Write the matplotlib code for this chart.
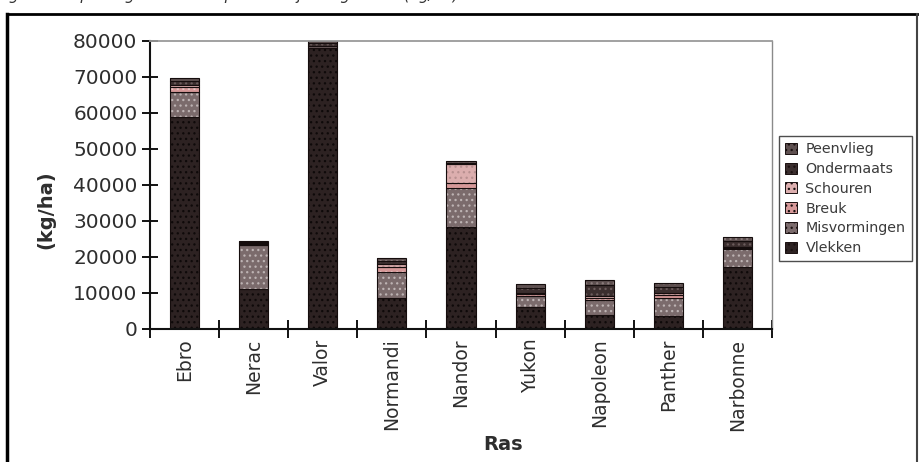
import matplotlib
matplotlib.use('Agg')
import matplotlib.pyplot as plt
import numpy as np
from matplotlib.patches import Patch
from matplotlib.lines import Line2D

# opbrengst en uitval per ras (kg/ha)
rassen = ['Ebro', 'Nerac', 'Valor', 'Normandi', 'Nandor',
          'Yukon', 'Napoleon', 'Panther', 'Narbonne']
vlekken = [58800, 11000, 78000, 8700, 28300, 6000, 3900, 3600, 17300]
misvormingen = [7100, 12300, 500, 7200, 10900, 3300, 4100, 5000, 5000]
breuk = [1200, 300, 0, 1300, 1300, 400, 700, 800, 300]
schouren = [700, 200, 0, 800, 5200, 300, 600, 700, 300]
ondermaats = [1200, 400, 900, 1000, 500, 1500, 2900, 1600, 1600]
peenvlieg = [800, 200, 600, 800, 400, 1000, 1400, 1000, 1000]

# naam, waarden, vulkleur, kleur van de stippels
reeksen = [
    ('Vlekken', vlekken, '#2d2222', '#0e0909'),
    ('Misvormingen', misvormingen, '#7b6b6c', '#bdb3b3'),
    ('Breuk', breuk, '#d69898', '#eac4c4'),
    ('Schouren', schouren, '#dcaeae', '#b89090'),
    ('Ondermaats', ondermaats, '#3b2e2e', '#6b5c5c'),
    ('Peenvlieg', peenvlieg, '#5e5050', '#8a7c7c'),
]

plt.rcParams['font.family'] = 'DejaVu Sans'
plt.rcParams['hatch.linewidth'] = 0.9
tekst = '#2e2e2e'

fig = plt.figure(figsize=(9.2, 4.62), dpi=100)
ax = fig.add_axes([150/920, 133/462, 622/920, 288/462])

x = np.arange(len(rassen))
w = 0.42
onder = np.zeros(len(rassen))
for naam, vals, fc, dc in reeksen:
    vals = np.array(vals, dtype=float)
    ax.bar(x, vals, w, bottom=onder, color=fc, edgecolor=dc,
           hatch='...', linewidth=0)
    ax.bar(x, vals, w, bottom=onder, fill=False,
           edgecolor='#150d0d', linewidth=0.8)
    onder += vals

ax.set_ylim(0, 80000)
ax.set_xlim(-0.5, len(rassen) - 0.5)
ax.set_yticks(np.arange(0, 80001, 10000))
ax.tick_params(axis='y', direction='inout', length=12, width=1.3,
               pad=3, labelsize=14.5, labelcolor=tekst)

ax.set_xticks(x)
ax.set_xticklabels(rassen, rotation=90, fontsize=13.5, color=tekst)
ax.set_xticks(np.arange(-0.5, len(rassen)), minor=True)
ax.tick_params(axis='x', which='major', length=0, pad=7)
ax.tick_params(axis='x', which='minor', direction='inout',
               length=13, width=1.3)

for s in ['left', 'bottom']:
    ax.spines[s].set_linewidth(1.5)
    ax.spines[s].set_color('#111111')
ax.spines['top'].set_color('#9a9a9a')
ax.spines['top'].set_linewidth(1.3)
ax.spines['right'].set_color('#8a8a8a')
ax.spines['right'].set_linewidth(1.0)

ax.set_ylabel('(kg/ha)', fontsize=14, fontweight='bold', color=tekst)
ax.yaxis.set_label_coords(-0.152, 0.413)
fig.text(503/920, 1 - 445/462, 'Ras', ha='center', va='center',
         fontsize=14, fontweight='bold', color=tekst)

# legenda: bovenste reeks bovenaan
handles = [Patch(facecolor=fc, edgecolor='#1a1010', hatch='...',
                 linewidth=0.7) for _, _, fc, _ in reeksen[::-1]]
labels = [naam for naam, _, _, _ in reeksen[::-1]]
leg = fig.legend(handles, labels, loc='upper left',
                 bbox_to_anchor=(779/920, 1 - 136/462),
                 frameon=True, fancybox=False, fontsize=10.3,
                 handlelength=0.8, handleheight=0.8, handletextpad=0.6,
                 labelspacing=0.4, borderpad=0.45, borderaxespad=0)
leg.get_frame().set_edgecolor('#222222')
leg.get_frame().set_linewidth(1.0)
for t in leg.get_texts():
    t.set_color('#3a3a3a')

# kader rond de figuur
kader_top = 1 - 14/462
fig.add_artist(Line2D([7/920, 7/920], [0, kader_top], transform=fig.transFigure,
                      color='black', lw=2.5))
fig.add_artist(Line2D([7/920, 917/920], [kader_top, kader_top],
                      transform=fig.transFigure, color='black', lw=2.0))
fig.add_artist(Line2D([917/920, 917/920], [0, kader_top],
                      transform=fig.transFigure, color='#444444', lw=1.5))

# bijschrift boven de figuur; alleen de staarten van de letters vallen in beeld
fig.text(-4/920, 1.0, 'Figuur 6. Opbrengst en uitval per ras bij vroege teelt (kg/ha)',
         ha='left', va='baseline', fontsize=11, style='italic', color='#333333')

fig.savefig('out.png', dpi=100)
